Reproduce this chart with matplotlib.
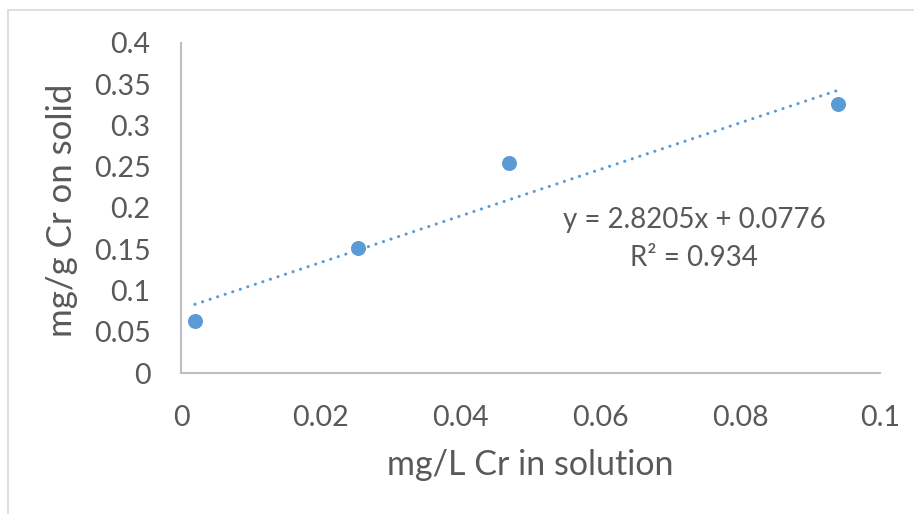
import matplotlib
matplotlib.use("Agg")
import matplotlib.pyplot as plt
from matplotlib.patches import Rectangle
import numpy as np

x_vals = [0.002, 0.0253, 0.0469, 0.094]
y_vals = [0.063, 0.1515, 0.2545, 0.326]
slope = 2.8205
intercept = 0.0776
r2 = 0.934
x_ticks = [0, 0.02, 0.04, 0.06, 0.08, 0.1]
x_tick_labels = ["0", "0.02", "0.04", "0.06", "0.08", "0.1"]
y_ticks = [0, 0.05, 0.1, 0.15, 0.2, 0.25, 0.3, 0.35, 0.4]
y_tick_labels = ["0", "0.05", "0.1", "0.15", "0.2", "0.25", "0.3", "0.35", "0.4"]

plt.rcParams['font.family'] = ['Lato', 'DejaVu Sans']
W, H = 914, 514
fig = plt.figure(figsize=(W/100, H/100), dpi=100)
fig.patch.set_facecolor('white')
fig.patches.append(Rectangle((8/W, -0.1), 1.2, 1.1 - 10/H, transform=fig.transFigure,
                             fill=False, edgecolor='#d9d9d9', linewidth=1.2))

ax = fig.add_axes([181/W, (H-373)/H, (880-181)/W, (373-43)/H])
color = '#5b9bd5'
txt = '#595959'
ax.scatter(x_vals, y_vals, s=(15*0.72)**2, color=color, zorder=3, linewidths=0)
xl = np.array([min(x_vals), max(x_vals)])
ax.plot(xl, slope*xl + intercept, color=color, linewidth=2.2,
        linestyle=(0, (0.05, 2.55)), dash_capstyle='round', zorder=2)

ax.set_xlim(0, 0.1)
ax.set_ylim(0, 0.4)
ax.set_xticks(x_ticks)
ax.set_xticklabels(x_tick_labels)
ax.set_yticks(y_ticks)
ax.set_yticklabels(y_tick_labels)
ax.tick_params(length=0, labelsize=20.5, colors=txt)
ax.tick_params(axis='x', pad=23)
ax.tick_params(axis='y', pad=22)
for s in ['top', 'right']:
    ax.spines[s].set_visible(False)
for s in ['left', 'bottom']:
    ax.spines[s].set_color('#bfbfbf')
    ax.spines[s].set_linewidth(1.5)

fig.text(530/W, 1 - 465/H, "mg/L Cr in solution", ha='center', va='center',
         fontsize=24.5, color=txt)
fig.text(62/W, 1 - 210/H, "mg/g Cr on solid", ha='center', va='center',
         rotation=90, fontsize=25, color=txt)
fig.text(694/W, 1 - 220/H, f"y = {slope}x + {intercept}", ha='center', va='center',
         fontsize=20, color=txt)
fig.text(694/W, 1 - 258/H, f"R² = {r2}", ha='center', va='center', fontsize=20, color=txt)
fig.savefig("out.png", dpi=100)
